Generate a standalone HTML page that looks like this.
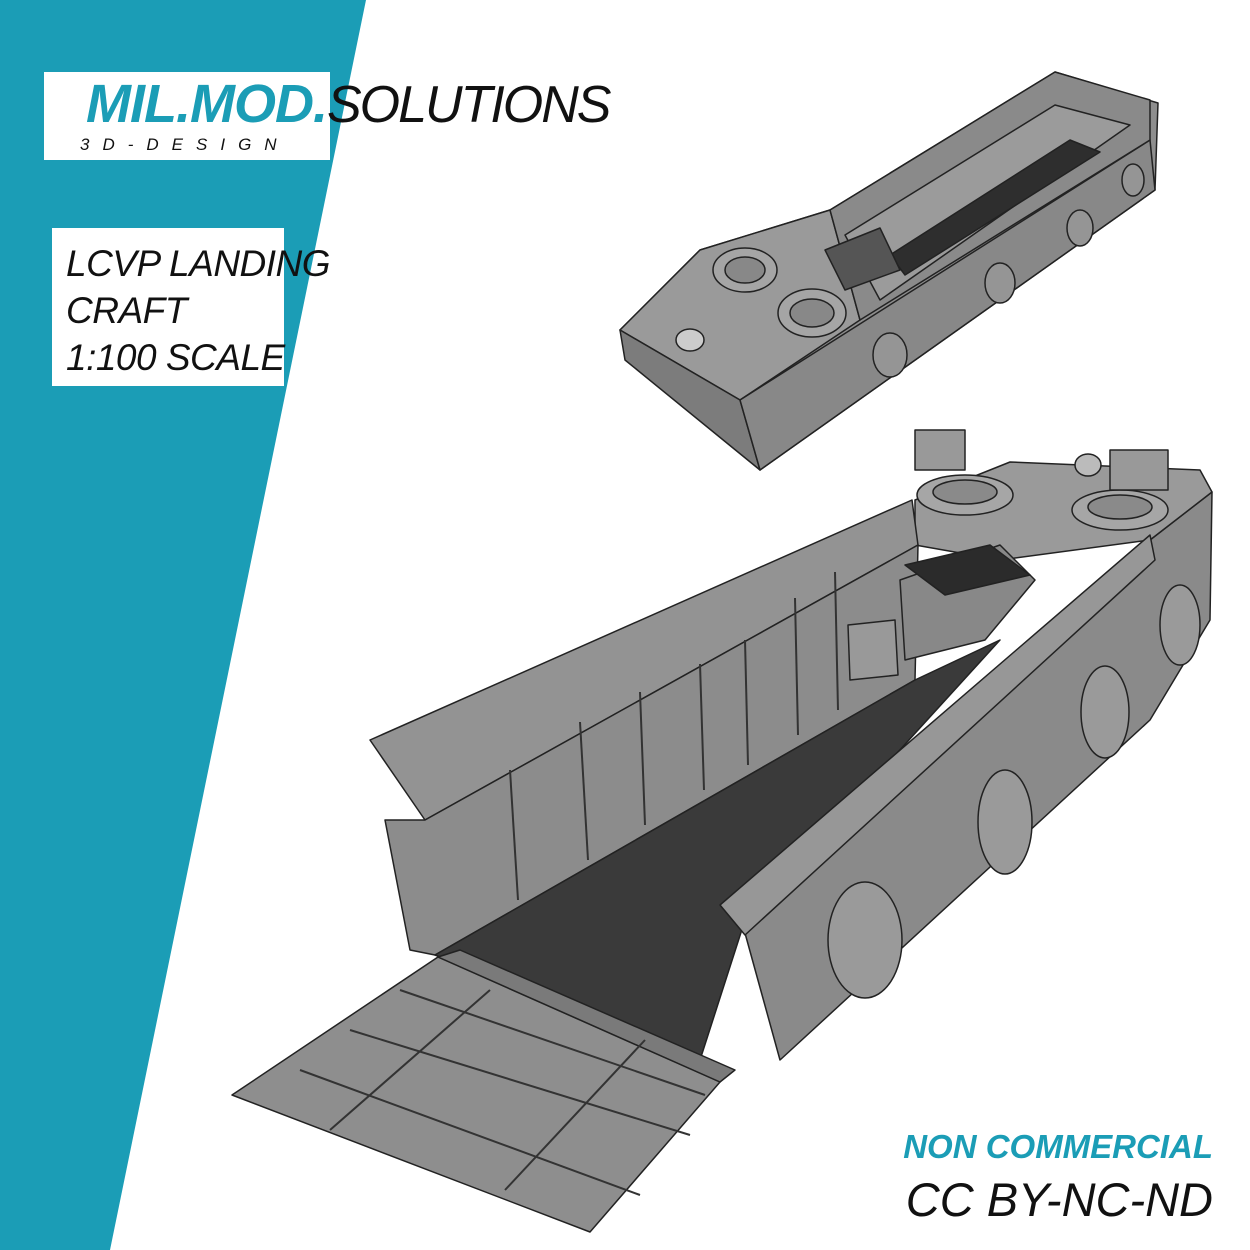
<!DOCTYPE html>
<html><head><meta charset="utf-8"><style>
html,body{margin:0;padding:0;background:#fff;width:1250px;height:1250px;overflow:hidden;font-family:"Liberation Sans",sans-serif}
.t{position:absolute;white-space:nowrap;font-style:italic}
</style></head><body>
<svg width="1250" height="1250" style="position:absolute;left:0;top:0">
<polygon points="0,0 366,0 110,1250 0,1250" fill="#1b9db6"/>
<rect x="44" y="72" width="286" height="88" fill="#fff"/>
<rect x="52" y="228" width="232" height="158" fill="#fff"/>
<!-- small boat -->
<g stroke="#222" stroke-width="1.5" stroke-linejoin="round">
<polygon points="620,330 760,470 1155,190 1158,103 1055,72 830,210 700,250" fill="#8e8e8e"/>
<polygon points="620,330 700,250 830,210 860,320 740,400" fill="#9a9a9a"/>
<polygon points="620,330 740,400 760,470 625,360" fill="#7c7c7c"/>
<polygon points="740,400 1150,140 1155,190 760,470" fill="#888"/>
<polygon points="830,210 1055,72 1150,100 1150,140 860,320" fill="#8a8a8a"/>
<polygon points="845,235 1055,105 1130,125 880,300" fill="#9b9b9b"/>
<polygon points="890,255 1070,140 1100,152 905,275" fill="#2e2e2e"/>
<polygon points="825,250 880,228 900,270 845,290" fill="#555"/>
<ellipse cx="745" cy="270" rx="32" ry="22" fill="#a5a5a5"/>
<ellipse cx="745" cy="270" rx="20" ry="13" fill="#888"/>
<ellipse cx="812" cy="313" rx="34" ry="24" fill="#a5a5a5"/>
<ellipse cx="812" cy="313" rx="22" ry="14" fill="#888"/>
<ellipse cx="690" cy="340" rx="14" ry="11" fill="#ccc"/>
<ellipse cx="890" cy="355" rx="17" ry="22" fill="#959595"/>
<ellipse cx="1000" cy="283" rx="15" ry="20" fill="#959595"/>
<ellipse cx="1080" cy="228" rx="13" ry="18" fill="#959595"/>
<ellipse cx="1133" cy="180" rx="11" ry="16" fill="#959595"/>
</g>
<!-- big boat -->
<g stroke="#222" stroke-width="1.5" stroke-linejoin="round">
<polygon points="740,915 1150,540 1212,492 1210,620 1150,720 780,1060" fill="#8a8a8a"/>
<polygon points="915,500 1010,462 1200,470 1212,492 1150,540 1000,560 915,545" fill="#9a9a9a"/>
<polygon points="370,740 912,500 918,545 425,820" fill="#939393"/>
<polygon points="385,820 425,820 918,545 915,680 435,955 410,950" fill="#8c8c8c"/>
<polygon points="435,955 915,680 1000,640 745,920 700,1060" fill="#3a3a3a"/>
<polygon points="720,905 1150,535 1155,560 745,935" fill="#979797"/>
<polygon points="900,580 1000,545 1035,580 985,640 905,660" fill="#888"/>
<polygon points="905,565 990,545 1030,575 945,595" fill="#2b2b2b"/>
<polygon points="848,625 895,620 898,675 850,680" fill="#999"/>
<polygon points="232,1095 438,957 720,1082 590,1232" fill="#8e8e8e"/>
<polygon points="438,957 460,950 735,1070 720,1082" fill="#7a7a7a"/>
<ellipse cx="965" cy="495" rx="48" ry="20" fill="#a6a6a6"/>
<ellipse cx="965" cy="492" rx="32" ry="12" fill="#8a8a8a"/>
<ellipse cx="1120" cy="510" rx="48" ry="20" fill="#a6a6a6"/>
<ellipse cx="1120" cy="507" rx="32" ry="12" fill="#8a8a8a"/>
<rect x="915" y="430" width="50" height="40" fill="#999"/>
<rect x="1110" y="450" width="58" height="40" fill="#999"/>
<ellipse cx="1088" cy="465" rx="13" ry="11" fill="#bbb"/>
<ellipse cx="865" cy="940" rx="37" ry="58" fill="#9a9a9a"/>
<ellipse cx="1005" cy="822" rx="27" ry="52" fill="#9a9a9a"/>
<ellipse cx="1105" cy="712" rx="24" ry="46" fill="#9a9a9a"/>
<ellipse cx="1180" cy="625" rx="20" ry="40" fill="#9a9a9a"/>
</g>
<g stroke="#333" stroke-width="2" fill="none">
<line x1="510" y1="770" x2="518" y2="900"/><line x1="580" y1="722" x2="588" y2="860"/>
<line x1="640" y1="692" x2="645" y2="825"/><line x1="700" y1="664" x2="704" y2="790"/>
<line x1="745" y1="640" x2="748" y2="765"/><line x1="795" y1="598" x2="798" y2="735"/>
<line x1="835" y1="572" x2="838" y2="710"/>
<line x1="490" y1="990" x2="330" y2="1130"/><line x1="645" y1="1040" x2="505" y2="1190"/>
<line x1="300" y1="1070" x2="640" y2="1195"/><line x1="350" y1="1030" x2="690" y2="1135"/>
<line x1="400" y1="990" x2="705" y2="1095"/>
</g>
</svg>
<div class="t" style="left:86px;top:72px;font-size:54px;line-height:64px;letter-spacing:-1px"><span style="color:#1b9db6;font-weight:bold">MIL.MOD.</span><span style="color:#111;letter-spacing:-2px;font-size:52px">SOLUTIONS</span></div>
<div class="t" style="left:80px;top:135px;font-size:17px;letter-spacing:13px;color:#111">3D-DESIGN</div>
<div class="t" style="left:66px;top:240px;font-size:37px;line-height:47px;color:#111;letter-spacing:-0.5px">LCVP LANDING<br>CRAFT<br>1:100 SCALE</div>
<div class="t" style="right:37px;top:1128px;font-size:33px;font-weight:bold;color:#1b9db6">NON COMMERCIAL</div>
<div class="t" style="right:37px;top:1172px;font-size:47px;color:#111">CC BY-NC-ND</div>
</body></html>
